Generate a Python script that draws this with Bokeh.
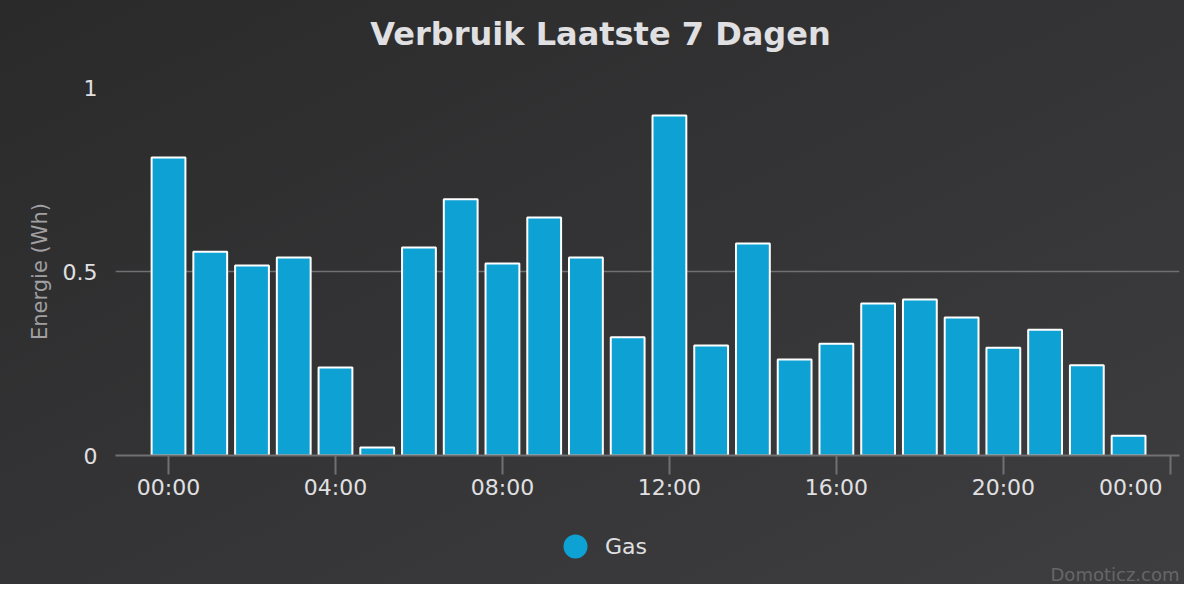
from bokeh.plotting import figure
from bokeh.layouts import column
from bokeh.models import (FixedTicker, NumeralTickFormatter, Legend, LegendItem,
                          Label, ColumnDataSource)
from bokeh.embed import file_html
from bokeh.resources import INLINE

# ---- data ----
hours = list(range(24))
gas = [0.81, 0.554, 0.516, 0.538, 0.239, 0.022, 0.565, 0.696, 0.522, 0.647,
       0.538, 0.321, 0.924, 0.299, 0.576, 0.261, 0.304, 0.413, 0.424, 0.375,
       0.293, 0.342, 0.245, 0.054]
x_ticks = [0, 4, 8, 12, 16, 20, 24]
# the last label is pulled inside the chart edge (an em space pads it on the right)
x_tick_labels = ["00:00", "04:00", "08:00", "12:00", "16:00", "20:00",
                 "00:00\u2003"]
y_ticks = [0, 0.5, 1]
series_name = "Gas"
title_text = "Verbruik Laatste 7 Dagen"
y_label = "Energie (Wh)"
credit_text = "Domoticz.com"

FONT = "DejaVu Sans"
BAR_COLOR = "#0ea1d3"
GRID = "#707073"
TEXT = "#E0E0E3"
W = 1184


def strip(height):
    """A plain strip whose frame is aligned with the chart frame by the column."""
    f = figure(width=W, height=height, output_backend="svg", toolbar_location=None,
               x_range=(0, 1), y_range=(0, 1),
               x_axis_location=None, y_axis_location=None, min_border=0)
    f.background_fill_alpha = 0
    f.border_fill_alpha = 0
    f.outline_line_color = None
    f.xgrid.grid_line_color = None
    f.ygrid.grid_line_color = None
    return f


# ---------------- title strip ----------------
t = strip(67)
t.add_layout(Label(x=485, y=34, x_units="screen", y_units="screen",
                   text=title_text, text_align="center", text_baseline="alphabetic",
                   text_font=FONT, text_font_size="32px", text_font_style="bold",
                   text_color=TEXT))

# ---------------- main chart ----------------
p = figure(width=W, height=441, output_backend="svg", toolbar_location=None,
           x_range=(-1.27, 24.22), y_range=(0, 1),
           min_border_left=115, min_border_right=5,
           min_border_top=20, min_border_bottom=53)
p.background_fill_alpha = 0
p.border_fill_alpha = 0
p.outline_line_color = None

src = ColumnDataSource(dict(x=hours, y=gas))
p.vbar(x="x", top="y", width=0.81, bottom=0, source=src,
       fill_color=BAR_COLOR, line_color="white", line_width=2)

xa = p.xaxis[0]
xa.ticker = FixedTicker(ticks=x_ticks)
xa.major_label_overrides = {tk: lb for tk, lb in zip(x_ticks, x_tick_labels)}
xa.axis_line_color = GRID
xa.axis_line_width = 2
xa.major_tick_line_color = GRID
xa.major_tick_line_width = 2
xa.major_tick_out = 19
xa.major_tick_in = 0
xa.minor_tick_line_color = None
xa.major_label_text_font = FONT
xa.major_label_text_font_size = "22px"
xa.major_label_text_color = TEXT
xa.major_label_standoff = 0

ya = p.yaxis[0]
ya.ticker = FixedTicker(ticks=y_ticks)
ya.formatter = NumeralTickFormatter(format="0.[0]")
ya.axis_line_color = None
ya.major_tick_line_color = None
ya.minor_tick_line_color = None
ya.major_label_text_font = FONT
ya.major_label_text_font_size = "22px"
ya.major_label_text_color = TEXT
ya.major_label_standoff = 12
ya.axis_label = y_label
ya.axis_label_text_font = FONT
ya.axis_label_text_font_size = "21px"
ya.axis_label_text_font_style = "normal"
ya.axis_label_text_color = "#A0A0A3"
ya.axis_label_standoff = 8

p.xgrid.grid_line_color = None
p.ygrid.grid_line_color = GRID
p.ygrid.grid_line_width = 1.5

# ---------------- legend / credits strip ----------------
q = strip(76)
# legend proxy: a single marker kept outside the visible range
marker = q.scatter(x=[-10], y=[-10], marker="circle", size=24,
                   fill_color=BAR_COLOR, line_color=None)
legend = Legend(items=[LegendItem(label=series_name, renderers=[marker])],
                location=(430, 8), orientation="horizontal",
                glyph_width=60, glyph_height=60, label_standoff=0,
                background_fill_alpha=0, border_line_color=None,
                label_text_font=FONT, label_text_font_size="22px",
                label_text_color=TEXT, margin=0, padding=0)
q.add_layout(legend)

q.add_layout(Label(x=1064, y=10, x_units="screen", y_units="screen",
                   text=credit_text, text_align="right", text_baseline="alphabetic",
                   text_font=FONT, text_font_size="18px", text_color="#666666"))

layout = column(t, p, q, spacing=0)
layout.styles = {"background-image": "linear-gradient(to bottom right, #2a2a2b, #3e3e40)"}

open("out.html", "w").write(file_html(layout, INLINE))
